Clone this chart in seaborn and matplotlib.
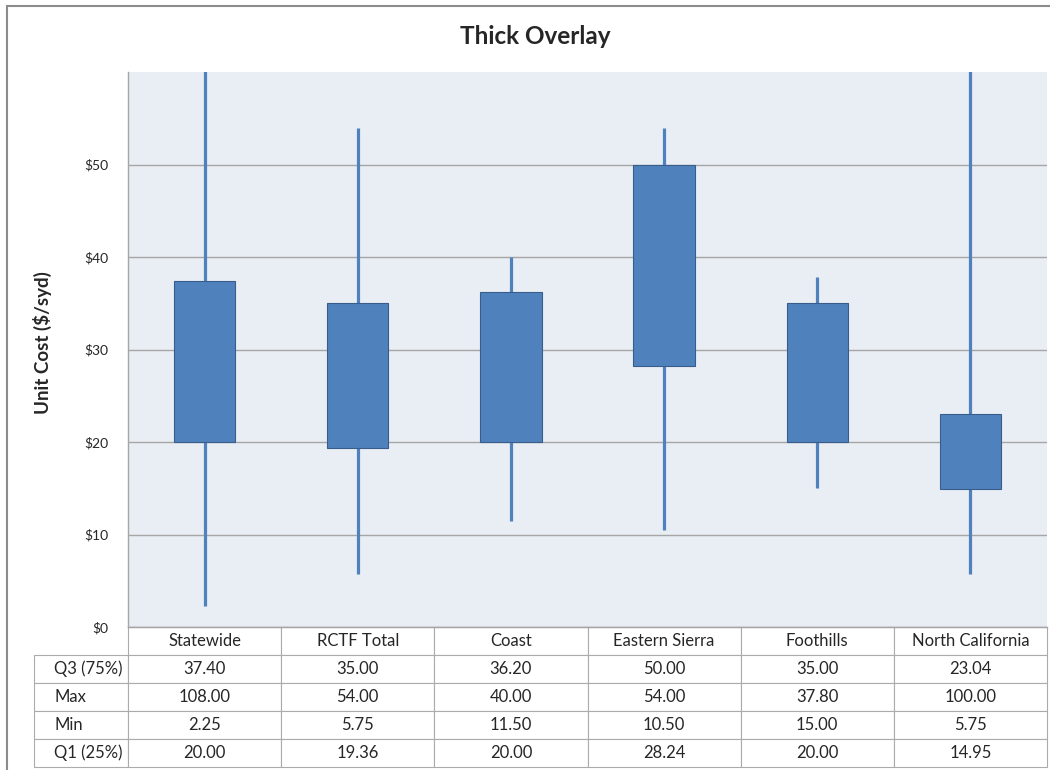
import numpy as np
import pandas as pd
import seaborn as sns
import matplotlib.pyplot as plt
from matplotlib.patches import Rectangle


# summary stats per region
regions = ["Statewide", "RCTF Total", "Coast", "Eastern Sierra", "Foothills", "North California"]
q3 = [37.40, 35.00, 36.20, 50.00, 35.00, 23.04]
max_cost = [108.00, 54.00, 40.00, 54.00, 37.80, 100.00]
min_cost = [2.25, 5.75, 11.50, 10.50, 15.00, 5.75]
q1 = [20.00, 19.36, 20.00, 28.24, 20.00, 14.95]
row_names = ["Q3 (75%)", "Max", "Min", "Q1 (25%)"]

df = pd.DataFrame({"region": regions, "q1": q1, "q3": q3,
                   "lo": min_cost, "hi": max_cost})
df["iqr"] = df["q3"] - df["q1"]

blue = "#4F81BD"
sns.set_style("white", {"axes.facecolor": "#E9EDF4", "axes.edgecolor": "#A6A6A6",
                        "grid.color": "#A6A6A6"})
plt.rcParams["font.family"] = ["Lato", "DejaVu Sans"]

fig = plt.figure(figsize=(10.5, 7.7), dpi=100)
ax = fig.add_axes([128 / 1050, 143 / 770, 919 / 1050, 555 / 770])

# high-low lines behind the boxes
ax.vlines(np.arange(len(df)), df["lo"], df["hi"], color=blue, lw=2.3, zorder=1)
# Q1..Q3 boxes
sns.barplot(data=df, x="region", y="iqr", bottom=df["q1"], color=blue, saturation=1,
            width=0.4, errorbar=None, edgecolor="#385D8A", linewidth=0.8, zorder=2, ax=ax)

ax.set_xlim(-0.5, len(df) - 0.5)
ax.set_ylim(0, 60)
ax.set_yticks(range(0, 60, 10))
ax.set_yticklabels([f"${v}" for v in range(0, 60, 10)])
ax.set_xticks([])
ax.set_xlabel("")
ax.set_ylabel("")
ax.yaxis.grid(True, lw=1)
ax.set_axisbelow(True)
ax.tick_params(axis="y", length=0, pad=14, labelsize=10, labelcolor="#262626")
for s in ["top", "right"]:
    ax.spines[s].set_visible(False)
for s in ["left", "bottom"]:
    ax.spines[s].set_linewidth(1)

# data table under the plot; row labels are written separately (left aligned)
cells = [[""] + regions]
for name, vals in zip(row_names, [q3, max_cost, min_cost, q1]):
    cells.append([""] + [f"{v:.2f}" for v in vals])
widths = [94] + [919 / 6] * 6
tbl = ax.table(cellText=cells, cellLoc="center", colWidths=[w / sum(widths) for w in widths],
               bbox=[-94 / 919, -140 / 555, 1013 / 919, 140 / 555])
tbl.auto_set_font_size(False)
tbl.set_fontsize(12)
for (r, c), cell in tbl.get_celld().items():
    cell.set_edgecolor("#ABABAB")
    cell.set_linewidth(0.8)
    cell.set_facecolor("white")
tbl[0, 0].visible_edges = ""

for i, name in enumerate(row_names):
    fig.text(54 / 1050, 1 - (669 + 28 * i) / 770, name, ha="left", va="center",
             fontsize=12)

fig.text(535 / 1050, 1 - 37 / 770, "Thick Overlay", ha="center", va="center",
         fontsize=17.5, fontweight="bold")
fig.text(42 / 1050, 1 - 343 / 770, "Unit Cost ($/syd)", ha="center", va="center",
         rotation=90, fontsize=13.5, fontweight="bold")
fig.add_artist(Rectangle((7 / 1050, -0.1), 1.2, 1.1 - 6 / 770, transform=fig.transFigure,
                         fill=False, edgecolor="#8C8C8C", lw=1.5))

plt.savefig("out.png", dpi=100)
